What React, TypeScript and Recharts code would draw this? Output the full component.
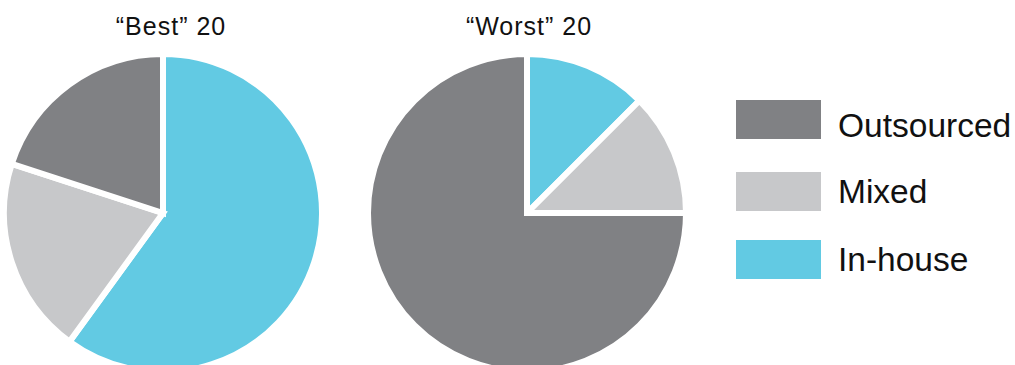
import { Cell, Legend, Pie, PieChart } from "recharts";

// sourcing split, top-20 vs bottom-20 companies
const categories = ["In-house", "Mixed", "Outsourced"];
const bestValues = [12, 4, 4];
const worstValues = [2.5, 2.5, 15];
const legendOrder = ["Outsourced", "Mixed", "In-house"];
const titles = ["“Best” 20", "“Worst” 20"];

const colors: Record<string, string> = {
  "In-house": "#62cae3",
  Mixed: "#c7c8ca",
  Outsourced: "#808184",
};

const FONT = "'Liberation Sans', Arial, Helvetica, sans-serif";

const toRows = (values: number[]) =>
  categories.map((name, i) => ({ name, value: values[i] }));

function LegendBox() {
  const rectTops = [10, 82, 150];
  const baselines = [47, 113, 181];
  return (
    <svg width={285} height={200}>
      {legendOrder.map((name, i) => (
        <g key={name}>
          <rect x={6} y={rectTops[i]} width={85} height={39} fill={colors[name]} />
          <text x={108} y={baselines[i]} fontSize={33.5} fontFamily={FONT} fill="#111">
            {name}
          </text>
        </g>
      ))}
    </svg>
  );
}

export default function App() {
  const pies = [
    { title: titles[0], data: toRows(bestValues), cx: 163 },
    { title: titles[1], data: toRows(worstValues), cx: 527 },
  ];

  return (
    <div style={{ position: "absolute", left: 0, top: 0, width: 1015, height: 365, background: "#fff" }}>
      <PieChart width={1015} height={365} margin={{ top: 0, right: 0, bottom: 0, left: 0 }}>
        {pies.map((p) => (
          <Pie
            key={p.title}
            data={p.data}
            dataKey="value"
            nameKey="name"
            cx={p.cx}
            cy={213}
            outerRadius={159}
            startAngle={90}
            endAngle={-270}
            stroke="#fff"
            strokeWidth={6}
            isAnimationActive={false}
          >
            {p.data.map((d) => (
              <Cell key={d.name} fill={colors[d.name]} />
            ))}
          </Pie>
        ))}
        <Legend
          content={() => <LegendBox />}
          wrapperStyle={{ position: "absolute", left: 730, top: 90, width: 285, height: 200 }}
        />
      </PieChart>
      <svg
        width={1015}
        height={60}
        style={{ position: "absolute", left: 0, top: 0, pointerEvents: "none" }}
      >
        {pies.map((p, i) => (
          <text
            key={p.title}
            x={[171, 529][i]}
            y={35}
            textAnchor="middle"
            fontSize={25}
            letterSpacing={1}
            fontFamily={FONT}
            fill="#111"
          >
            {p.title}
          </text>
        ))}
      </svg>
    </div>
  );
}
